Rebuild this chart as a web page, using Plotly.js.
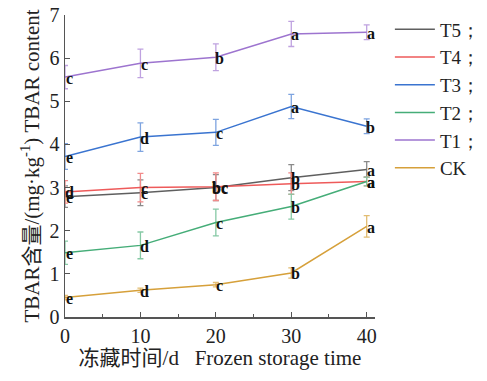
<!DOCTYPE html>
<html><head><meta charset="utf-8">
<script src="https://cdn.plot.ly/plotly-3.0.1.min.js"></script>
<style>html,body{margin:0;padding:0;background:#fff}</style>
</head><body><div id="chart" style="width:487px;height:381px"></div>
<script>
const days = [0, 10, 20, 30, 40];
const seriesNames = ['T5；', 'T4；', 'T3；', 'T2；', 'T1；', 'CK'];
const T5 = [2.79, 2.88, 3.00, 3.23, 3.42];
const T5err = [0.25, 0.30, 0.30, 0.30, 0.18];
const T4 = [2.90, 3.00, 3.02, 3.09, 3.14];
const T4err = [0.26, 0.33, 0.32, 0.25, 0.10];
const T3 = [3.72, 4.17, 4.28, 4.88, 4.42];
const T3err = [0.30, 0.33, 0.30, 0.28, 0.17];
const T2 = [1.49, 1.66, 2.19, 2.56, 3.14];
const T2err = [0.27, 0.31, 0.31, 0.29, 0.10];
const T1 = [5.56, 5.88, 6.02, 6.56, 6.60];
const T1err = [0.27, 0.33, 0.31, 0.29, 0.17];
const CK = [0.45, 0.62, 0.75, 1.02, 2.10];
const CKerr = [0.05, 0.05, 0.05, 0.12, 0.25];
const T5letters = ['e', 'c', 'bc', 'b', 'a'];
const T4letters = ['d', 'c', 'bc', 'b', 'a'];
const T3letters = ['e', 'd', 'c', 'a', 'b'];
const T2letters = ['e', 'd', 'c', 'b', 'a'];
const T1letters = ['c', 'c', 'b', 'a', 'a'];
const CKletters = ['e', 'd', 'c', 'b', 'a'];

const lineColors = ['#5f5f5f', '#ee5a5a', '#3a74d0', '#45ad78', '#9d74cf', '#d6a03a'];
const errColors = ['#8a8a8a', '#f28a8a', '#7ea4e0', '#86c9a5', '#bfa2e0', '#e2bd72'];
const ys = [T5, T4, T3, T2, T1, CK];
const errs = [T5err, T4err, T3err, T2err, T1err, CKerr];
const letters = [T5letters, T4letters, T3letters, T2letters, T1letters, CKletters];

const traces = ys.map((y, i) => ({
  x: days, y: y, name: seriesNames[i], type: 'scatter', mode: 'lines',
  line: {color: lineColors[i], width: 1.5},
  error_y: {type: 'data', array: errs[i], visible: true, color: errColors[i], thickness: 1.3, width: 3}
}));

const annotations = [];
ys.forEach((y, i) => {
  y.forEach((v, j) => {
    annotations.push({x: days[j], y: v, text: '<b>' + letters[i][j] + '</b>', showarrow: false,
      xanchor: 'center', yanchor: 'middle', xshift: 4, yshift: -1,
      font: {family: 'Liberation Serif', size: 16, color: '#111'}});
  });
});

const layout = {
  width: 487, height: 381,
  margin: {l: 65, r: 112, t: 15, b: 64, autoexpand: false},
  paper_bgcolor: '#fff', plot_bgcolor: '#fff',
  font: {family: 'Liberation Serif', color: '#222'},
  showlegend: true,
  legend: {x: 1.048, y: 1.015, xanchor: 'left', yanchor: 'top', font: {size: 19, family: 'Liberation Serif', color: '#222'},
    bgcolor: 'rgba(0,0,0,0)', tracegroupgap: 0, itemwidth: 40},
  xaxis: {range: [0, 41.1], tickvals: [0, 10, 20, 30, 40], showgrid: false, zeroline: false,
    showline: true, linecolor: '#555', linewidth: 1.5, ticks: 'inside', ticklen: 5, tickcolor: '#555',
    minor: {dtick: 5, ticks: 'inside', ticklen: 3, tickcolor: '#555', showgrid: false},
    tickfont: {size: 20, family: 'Liberation Serif', color: '#222'},
    title: {text: '冻藏时间/d   Frozen storage time', font: {size: 21, family: 'Liberation Serif, Noto Sans CJK SC', color: '#222'}, standoff: 5}},
  yaxis: {range: [0, 7], dtick: 1, showgrid: false, zeroline: false,
    showline: true, linecolor: '#555', linewidth: 1.5, ticks: 'inside', ticklen: 5, tickcolor: '#555',
    tickfont: {size: 20, family: 'Liberation Serif', color: '#222'},
    title: {text: 'TBAR含量/(mg·kg<sup>-1</sup>) TBAR content', font: {size: 21, family: 'Liberation Serif, Noto Sans CJK SC', color: '#222'}, standoff: 4}},
  annotations: annotations
};
Plotly.newPlot('chart', traces, layout, {displayModeBar: false, staticPlot: true});
</script></body></html>
